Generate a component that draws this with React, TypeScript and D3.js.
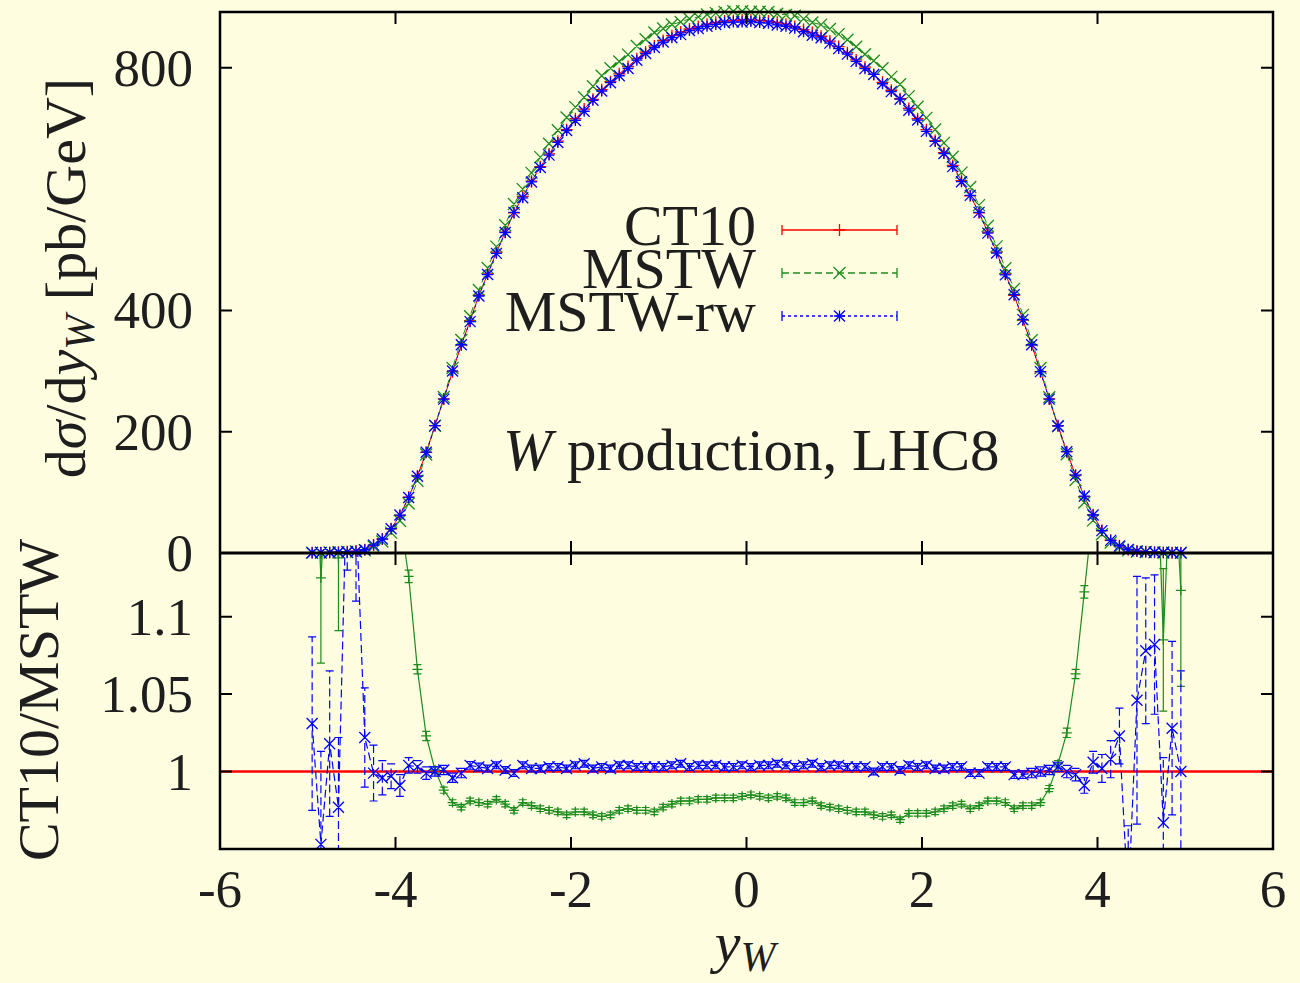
import * as d3 from 'd3';

// rapidity bin centres
const yBins = [
  -4.95, -4.85, -4.75, -4.65, -4.55, -4.45, -4.35, -4.25, -4.15, -4.05,
  -3.95, -3.85, -3.75, -3.65, -3.55, -3.45, -3.35, -3.25, -3.15, -3.05,
  -2.95, -2.85, -2.75, -2.65, -2.55, -2.45, -2.35, -2.25, -2.15, -2.05,
  -1.95, -1.85, -1.75, -1.65, -1.55, -1.45, -1.35, -1.25, -1.15, -1.05,
  -0.95, -0.85, -0.75, -0.65, -0.55, -0.45, -0.35, -0.25, -0.15, -0.05,
  0.05, 0.15, 0.25, 0.35, 0.45, 0.55, 0.65, 0.75, 0.85, 0.95,
  1.05, 1.15, 1.25, 1.35, 1.45, 1.55, 1.65, 1.75, 1.85, 1.95,
  2.05, 2.15, 2.25, 2.35, 2.45, 2.55, 2.65, 2.75, 2.85, 2.95,
  3.05, 3.15, 3.25, 3.35, 3.45, 3.55, 3.65, 3.75, 3.85, 3.95,
  4.05, 4.15, 4.25, 4.35, 4.45, 4.55, 4.65, 4.75, 4.85, 4.95,
];

// dsigma/dy_W [pb/GeV], CT10
const ct10 = [
  0.4, 0.6, 0.9, 1.3, 2.0, 3.2, 5.5, 13, 23, 40,
  62, 92, 127, 166, 210, 254, 299, 343, 383, 425,
  460, 496, 529, 561, 588, 613, 637, 658, 679, 698,
  716, 732, 748, 764, 777, 790, 802, 815, 826, 836,
  845, 853, 859, 864, 868, 872, 875, 877, 878, 879,
  879, 878, 877, 875, 872, 868, 863, 858, 852, 844,
  835, 825, 813, 801, 789, 776, 763, 749, 733, 716,
  698, 680, 660, 639, 614, 589, 561, 529, 496, 460,
  425, 384, 343, 299, 254, 210, 167, 128, 93, 63,
  37, 21, 12, 5.5, 3.2, 2.0, 1.3, 0.9, 0.6, 0.4,
];

// ratio CT10 / MSTW and its error
const ratioMstw = [
  1.25, 1.125, 1.22, 1.138, 1.3, 1.28, 1.26, 1.24, 1.21, 1.19,
  1.165, 1.126, 1.066, 1.023, 1.001, 0.988, 0.98, 0.977, 0.981, 0.98,
  0.979, 0.982, 0.979, 0.975, 0.98, 0.978, 0.976, 0.975, 0.974, 0.972,
  0.974, 0.974, 0.972, 0.971, 0.972, 0.975, 0.976, 0.975, 0.975, 0.974,
  0.977, 0.979, 0.981, 0.981, 0.982, 0.982, 0.983, 0.983, 0.983, 0.984,
  0.985, 0.984, 0.983, 0.984, 0.983, 0.98, 0.98, 0.981, 0.978, 0.977,
  0.976, 0.975, 0.974, 0.974, 0.972, 0.971, 0.972, 0.969, 0.973, 0.973,
  0.973, 0.974, 0.976, 0.978, 0.979, 0.976, 0.978, 0.981, 0.981, 0.98,
  0.976, 0.978, 0.978, 0.98, 0.989, 1.005, 1.025, 1.063, 1.116, 1.17,
  1.2, 1.22, 1.24, 1.26, 1.28, 1.3, 1.25, 1.085, 1.22, 1.117,
];
const errMstw = [
  0.06, 0.055, 0.06, 0.047, 0.05, 0.04, 0.03, 0.02, 0.015, 0.01,
  0.006, 0.004, 0.003, 0.003, 0.002, 0.002, 0.0018, 0.0018, 0.0018, 0.0018,
  0.0018, 0.0018, 0.0018, 0.0018, 0.0018, 0.0018, 0.0018, 0.0018, 0.0018, 0.0018,
  0.0018, 0.0018, 0.0018, 0.0018, 0.0018, 0.0018, 0.0018, 0.0018, 0.0018, 0.0018,
  0.0018, 0.0018, 0.0018, 0.0018, 0.0018, 0.0018, 0.0018, 0.0018, 0.0018, 0.0018,
  0.0018, 0.0018, 0.0018, 0.0018, 0.0018, 0.0018, 0.0018, 0.0018, 0.0018, 0.0018,
  0.0018, 0.0018, 0.0018, 0.0018, 0.0018, 0.0018, 0.0018, 0.0018, 0.0018, 0.0018,
  0.0018, 0.0018, 0.0018, 0.0018, 0.0018, 0.0018, 0.0018, 0.0018, 0.0018, 0.0018,
  0.0018, 0.0018, 0.0018, 0.0018, 0.002, 0.002, 0.003, 0.003, 0.004, 0.006,
  0.01, 0.015, 0.02, 0.03, 0.04, 0.05, 0.05, 0.046, 0.05, 0.062,
];

// ratio CT10 / MSTW-rw and its error
const ratioRw = [
  1.031, 0.953, 1.018, 0.977, 1.2, 1.17, 1.022, 0.999, 0.996, 0.997,
  0.991, 1.004, 1.003, 0.999, 1.0, 1.001, 0.996, 0.999, 1.004, 1.003,
  1.002, 1.004, 1.001, 0.999, 1.004, 1.002, 1.002, 1.003, 1.003, 1.002,
  1.004, 1.005, 1.002, 1.003, 1.002, 1.004, 1.004, 1.003, 1.003, 1.003,
  1.003, 1.004, 1.005, 1.003, 1.004, 1.004, 1.004, 1.003, 1.003, 1.004,
  1.003, 1.004, 1.004, 1.005, 1.004, 1.003, 1.004, 1.005, 1.003, 1.004,
  1.004, 1.003, 1.003, 1.003, 1.0, 1.003, 1.003, 1.001, 1.004, 1.003,
  1.004, 1.002, 1.002, 1.003, 1.003, 0.999, 0.999, 1.003, 1.003, 1.003,
  0.998, 0.998, 0.999, 1.0, 1.001, 1.003, 1.0, 0.998, 0.991, 1.006,
  1.002, 1.008, 1.023, 0.915, 1.046, 1.078, 1.082, 0.967, 1.028, 1.0,
];
const errRw = [
  0.056, 0.06, 0.047, 0.045, 0.07, 0.06, 0.032, 0.018, 0.011, 0.008,
  0.007, 0.005, 0.004, 0.004, 0.003, 0.003, 0.003, 0.003, 0.0025, 0.0025,
  0.0022, 0.0022, 0.0022, 0.0022, 0.0022, 0.0022, 0.0022, 0.0022, 0.0022, 0.0022,
  0.0022, 0.0022, 0.0022, 0.0022, 0.0022, 0.0022, 0.0022, 0.0022, 0.0022, 0.0022,
  0.0022, 0.0022, 0.0022, 0.0022, 0.0022, 0.0022, 0.0022, 0.0022, 0.0022, 0.0022,
  0.0022, 0.0022, 0.0022, 0.0022, 0.0022, 0.0022, 0.0022, 0.0022, 0.0022, 0.0022,
  0.0022, 0.0022, 0.0022, 0.0022, 0.0022, 0.0022, 0.0022, 0.0022, 0.0022, 0.0022,
  0.0022, 0.0022, 0.0022, 0.0022, 0.0022, 0.0022, 0.0022, 0.0022, 0.0022, 0.0022,
  0.0025, 0.0025, 0.003, 0.003, 0.003, 0.003, 0.004, 0.004, 0.005, 0.007,
  0.009, 0.012, 0.018, 0.05, 0.08, 0.047, 0.045, 0.042, 0.056, 0.065,
];

const xTicks = [-6, -4, -2, 0, 2, 4, 6];
const topTicks = [0, 200, 400, 800];
const ratioTicks = [1, 1.05, 1.1];
const ratioTickLabels = ['1', '1.05', '1.1'];
const legendNames = ['CT10', 'MSTW', 'MSTW-rw'];

const W = 1300;
const H = 983;
const LEFT = 220;
const RIGHT = 1273;
const TOP = 12;
const MID = 553;
const BOTTOM = 849;
const TICK = 12;
const FONT =
  "'Liberation Serif', 'Noto Serif', 'DejaVu Serif', FreeSerif, 'Times New Roman', Times, serif";
const INK = '#1e1e1e';
const RED = '#ff0000';
const GREEN = '#1e8c1e';
const BLUE = '#0000ff';

type Kind = 'plus' | 'cross' | 'star';

const shape = (kind: Kind, cx: number, cy: number, s: number) => {
  const p = `M${cx - s},${cy}H${cx + s}M${cx},${cy - s}V${cy + s}`;
  const c = `M${cx - s},${cy - s}L${cx + s},${cy + s}M${cx - s},${cy + s}L${cx + s},${cy - s}`;
  if (kind === 'plus') return p;
  if (kind === 'cross') return c;
  return p + c;
};

export default function App() {
  const x = d3.scaleLinear().domain([-6, 6]).range([LEFT, RIGHT]);
  const yTop = d3.scaleLinear().domain([0, 892]).range([MID, TOP]);
  const yRat = d3.scaleLinear().domain([0.95, 1.1411]).range([BOTTOM, MID]);

  // upper-panel MSTW curves follow from CT10 and the plotted ratios
  const mstw = ct10.map((v, i) => v / ratioMstw[i]);
  const mstwRw = ct10.map((v, i) => v / ratioRw[i]);

  const lineOf = (scale: d3.ScaleLinear<number, number>) =>
    d3
      .line<number>()
      .x((_, i) => x(yBins[i]))
      .y(d => scale(d));

  const marks = (vals: number[], scale: d3.ScaleLinear<number, number>, kind: Kind, s: number) =>
    vals.map((v, i) => shape(kind, x(yBins[i]), scale(v), s)).join('');

  const bars = (vals: number[], errs: number[]) =>
    vals
      .map((v, i) => {
        const cx = x(yBins[i]);
        const lo = yRat(v - errs[i]);
        const hi = yRat(v + errs[i]);
        return `M${cx},${lo}V${hi}M${cx - 4},${lo}H${cx + 4}M${cx - 4},${hi}H${cx + 4}`;
      })
      .join('');

  const topSeries = [
    { vals: ct10, color: RED, dash: undefined, kind: 'plus' as Kind, s: 6 },
    { vals: mstw, color: GREEN, dash: '7,4', kind: 'cross' as Kind, s: 6 },
    { vals: mstwRw, color: BLUE, dash: '3,3', kind: 'star' as Kind, s: 5.5 },
  ];

  const legendY = [230, 273, 316];
  const legendX0 = 782;
  const legendX1 = 897;

  return (
    <svg
      width={W}
      height={H}
      style={{ position: 'absolute', left: 0, top: 0, fontFamily: FONT }}
    >
      <defs>
        <clipPath id='ratioClip'>
          <rect x={LEFT} y={MID} width={RIGHT - LEFT} height={BOTTOM - MID} />
        </clipPath>
      </defs>
      <rect width={W} height={H} fill='#fefde0' />

      {/* upper panel curves */}
      {topSeries.map((s, k) => (
        <g key={k} stroke={s.color} fill='none'>
          <path d={lineOf(yTop)(s.vals) || ''} strokeWidth={1} strokeDasharray={s.dash} />
          <path d={marks(s.vals, yTop, s.kind, s.s)} strokeWidth={1.3} />
        </g>
      ))}

      {/* ratio panel */}
      <g clipPath='url(#ratioClip)' fill='none'>
        <line x1={x(-6)} x2={x(6)} y1={yRat(1)} y2={yRat(1)} stroke={RED} strokeWidth={2.5} />
        <g stroke={GREEN}>
          <path d={lineOf(yRat)(ratioMstw) || ''} strokeWidth={1.2} />
          <path d={bars(ratioMstw, errMstw)} strokeWidth={1.2} />
          <path d={marks(ratioMstw, yRat, 'plus', 5)} strokeWidth={1.3} />
        </g>
        <g stroke={BLUE}>
          <path d={lineOf(yRat)(ratioRw) || ''} strokeWidth={1.2} strokeDasharray='8,4' />
          <path d={bars(ratioRw, errRw)} strokeWidth={1.2} strokeDasharray='8,4' />
          <path d={marks(ratioRw, yRat, 'cross', 5.5)} strokeWidth={1.3} />
        </g>
      </g>

      {/* frame and ticks */}
      <g stroke='#000' fill='none'>
        <rect x={LEFT} y={TOP} width={RIGHT - LEFT} height={BOTTOM - TOP} strokeWidth={2.5} />
        <line x1={LEFT} x2={RIGHT} y1={MID} y2={MID} strokeWidth={3} />
        {xTicks.map(t => (
          <path
            key={t}
            strokeWidth={2}
            d={`M${x(t)},${TOP}v${TICK}M${x(t)},${MID - TICK}v${2 * TICK}M${x(t)},${BOTTOM}v${-TICK}`}
          />
        ))}
        {topTicks.map(t => (
          <path key={t} strokeWidth={2} d={`M${LEFT},${yTop(t)}h${TICK}M${RIGHT},${yTop(t)}h${-TICK}`} />
        ))}
        {ratioTicks.map(t => (
          <path key={t} strokeWidth={2} d={`M${LEFT},${yRat(t)}h${TICK}M${RIGHT},${yRat(t)}h${-TICK}`} />
        ))}
      </g>

      {/* tick labels */}
      <g fill={INK} fontSize={53}>
        {topTicks.map(t => (
          <text key={t} x={193} y={yTop(t) + 18} textAnchor='end'>
            {t}
          </text>
        ))}
        {ratioTicks.map((t, i) => (
          <text key={t} x={193} y={yRat(t) + 18} textAnchor='end'>
            {ratioTickLabels[i]}
          </text>
        ))}
        {xTicks.map(t => (
          <text key={t} x={x(t)} y={907} textAnchor='middle'>
            {t < 0 ? `-${-t}` : t}
          </text>
        ))}
      </g>

      {/* legend */}
      <g fontSize={58} fill={INK}>
        {topSeries.map((s, k) => (
          <g key={k}>
            <text x={756} y={legendY[k] + 15} textAnchor='end'>
              {legendNames[k]}
            </text>
            <g stroke={s.color} fill='none' strokeWidth={1.3}>
              <line x1={legendX0} x2={legendX1} y1={legendY[k]} y2={legendY[k]} strokeDasharray={s.dash} />
              <path d={`M${legendX0},${legendY[k] - 5}v10M${legendX1},${legendY[k] - 5}v10`} />
              <path d={shape(s.kind, (legendX0 + legendX1) / 2, legendY[k], s.s)} />
            </g>
          </g>
        ))}
      </g>

      {/* annotation */}
      <text x={503} y={470} fontSize={59} fill={INK}>
        <tspan fontStyle='italic'>W</tspan>
        <tspan> production, LHC8</tspan>
      </text>

      {/* axis titles */}
      <text transform='translate(85,278) rotate(-90)' textAnchor='middle' fontSize={58} fill={INK}>
        <tspan>d</tspan>
        <tspan fontStyle='italic'>σ</tspan>
        <tspan>/d</tspan>
        <tspan fontStyle='italic'>y</tspan>
        <tspan fontStyle='italic' fontSize={42} dy={9}>W</tspan>
        <tspan dy={-9}> [pb/GeV]</tspan>
      </text>
      <text transform='translate(58,700) rotate(-90)' textAnchor='middle' fontSize={58} fill={INK}>
        CT10/MSTW
      </text>
      <text x={745} y={962} textAnchor='middle' fontSize={58} fill={INK}>
        <tspan fontStyle='italic'>y</tspan>
        <tspan fontStyle='italic' fontSize={42} dy={9}>W</tspan>
      </text>
    </svg>
  );
}
